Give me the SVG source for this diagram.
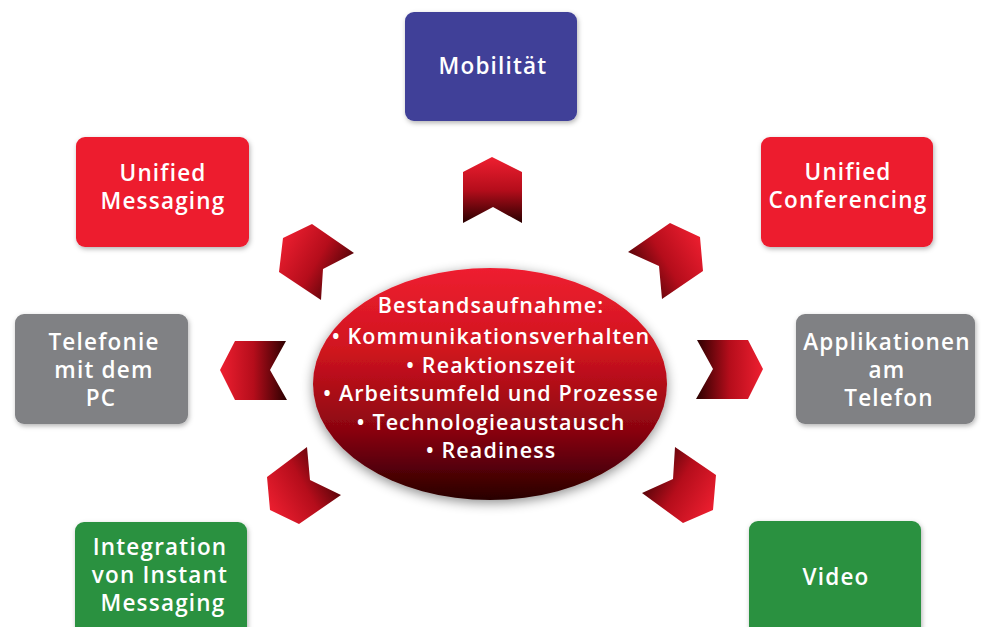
<svg xmlns="http://www.w3.org/2000/svg" width="981" height="627" viewBox="0 0 981 627">
<defs>
<style>
.lbl{font-family:"Open Sans","Liberation Sans",sans-serif;font-size:22.5px;font-weight:600;letter-spacing:1.2px;fill:#fff;text-anchor:middle}
.ell{font-family:"Open Sans","Liberation Sans",sans-serif;font-size:21.5px;font-weight:600;letter-spacing:1.1px;fill:#fff;text-anchor:middle}
.box{filter:url(#sh)}
</style>
<filter id="sh" x="-20%" y="-20%" width="140%" height="140%">
<feDropShadow dx="1" dy="2" stdDeviation="2.5" flood-color="#000" flood-opacity="0.3"/>
</filter>
<filter id="esh" x="-20%" y="-20%" width="140%" height="140%">
<feDropShadow dx="0" dy="3" stdDeviation="6" flood-color="#000" flood-opacity="0.45"/>
</filter>
<linearGradient id="gEll" x1="0" y1="0" x2="0" y2="1">
<stop offset="0" stop-color="#ee1f30"/>
<stop offset="0.35" stop-color="#d0141f"/>
<stop offset="0.7" stop-color="#8a0510"/>
<stop offset="1" stop-color="#280000"/>
</linearGradient>
<linearGradient id="gUp" x1="0" y1="0" x2="0" y2="1">
<stop offset="0" stop-color="#ee1f30"/><stop offset="0.5" stop-color="#b50d1b"/><stop offset="1" stop-color="#2a0000"/>
</linearGradient>
<linearGradient id="gLeft" x1="0" y1="0" x2="1" y2="0">
<stop offset="0" stop-color="#ee1f30"/><stop offset="0.5" stop-color="#b50d1b"/><stop offset="1" stop-color="#2a0000"/>
</linearGradient>
<linearGradient id="gRight" x1="1" y1="0" x2="0" y2="0">
<stop offset="0" stop-color="#ee1f30"/><stop offset="0.5" stop-color="#b50d1b"/><stop offset="1" stop-color="#2a0000"/>
</linearGradient>
<linearGradient id="gUL" x1="0" y1="0.2" x2="1" y2="0.8">
<stop offset="0" stop-color="#ee1f30"/><stop offset="0.5" stop-color="#b50d1b"/><stop offset="1" stop-color="#2a0000"/>
</linearGradient>
<linearGradient id="gLL" x1="0" y1="0.8" x2="1" y2="0.2">
<stop offset="0" stop-color="#ee1f30"/><stop offset="0.5" stop-color="#b50d1b"/><stop offset="1" stop-color="#2a0000"/>
</linearGradient>
<linearGradient id="gUR" x1="1" y1="0.2" x2="0" y2="0.8">
<stop offset="0" stop-color="#ee1f30"/><stop offset="0.5" stop-color="#b50d1b"/><stop offset="1" stop-color="#2a0000"/>
</linearGradient>
<linearGradient id="gLR" x1="1" y1="0.8" x2="0" y2="0.2">
<stop offset="0" stop-color="#ee1f30"/><stop offset="0.5" stop-color="#b50d1b"/><stop offset="1" stop-color="#2a0000"/>
</linearGradient>
</defs>
<rect width="981" height="627" fill="#fff"/>

<g id="connectors">
<polygon points="492,157 522,172 522,223 493,207 463,223 463,172" fill="url(#gUp)"/>
<polygon points="312,224 354,253 323,269 321,300 279,272 283,238" fill="url(#gUL)"/>
<polygon points="220,370 235,341 286,341 270,370 287,400 235,400" fill="url(#gLeft)"/>
<polygon points="307,447 310,480 341,495 299,524 270,510 267,477" fill="url(#gLL)"/>
<polygon points="697,340 748,340 763,369 748,399 696,399 713,369" fill="url(#gRight)"/>
<polygon points="628,252 670,223 700,237 703,271 662,299 659,266" fill="url(#gUR)"/>
<polygon points="675,447 716,475 713,510 683,523 642,493 673,479" fill="url(#gLR)"/>
</g>

<g id="center">
<ellipse cx="490" cy="384" rx="177" ry="116" fill="url(#gEll)" filter="url(#esh)"/>
<text class="ell" x="491" y="313">Bestandsaufnahme:</text>
<text class="ell" x="491" y="344">• Kommunikationsverhalten</text>
<text class="ell" x="491" y="373">• Reaktionszeit</text>
<text class="ell" x="491" y="401">• Arbeitsumfeld und Prozesse</text>
<text class="ell" x="491" y="430">• Technologieaustausch</text>
<text class="ell" x="491" y="458">• Readiness</text>
</g>

<g id="mobilitaet">
<rect class="box" x="405" y="12" width="172" height="109" rx="9" fill="#3f3f98"/>
<text class="lbl" x="493" y="74">Mobilität</text>
</g>

<g id="unified-messaging">
<rect class="box" x="76" y="137" width="173" height="110" rx="9" fill="#ed1c2e"/>
<text class="lbl" x="163" y="181">Unified</text>
<text class="lbl" x="163" y="209">Messaging</text>
</g>

<g id="unified-conferencing">
<rect class="box" x="761" y="137" width="172" height="110" rx="9" fill="#ed1c2e"/>
<text class="lbl" x="848" y="180">Unified</text>
<text class="lbl" x="848" y="208">Conferencing</text>
</g>

<g id="telefonie-pc">
<rect class="box" x="15" y="314" width="173" height="110" rx="9" fill="#808184"/>
<text class="lbl" x="104" y="350">Telefonie</text>
<text class="lbl" x="104" y="378">mit dem</text>
<text class="lbl" x="101" y="406">PC</text>
</g>

<g id="applikationen">
<rect class="box" x="796" y="314" width="179" height="110" rx="9" fill="#808184"/>
<text class="lbl" x="887" y="350">Applikationen</text>
<text class="lbl" x="887" y="378">am</text>
<text class="lbl" x="889" y="406">Telefon</text>
</g>

<g id="instant-messaging">
<rect class="box" x="75" y="522" width="172" height="120" rx="9" fill="#2a9140"/>
<text class="lbl" x="160" y="555">Integration</text>
<text class="lbl" x="160" y="583">von Instant</text>
<text class="lbl" x="163" y="611">Messaging</text>
</g>

<g id="video">
<rect class="box" x="749" y="521" width="172" height="120" rx="9" fill="#2a9140"/>
<text class="lbl" x="836" y="585">Video</text>
</g>
</svg>
